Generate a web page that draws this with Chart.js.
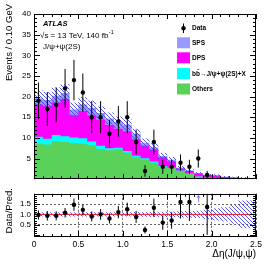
<!DOCTYPE html>
<html><head><meta charset="utf-8">
<script src="https://cdn.jsdelivr.net/npm/chart.js@4.4.0/dist/chart.umd.min.js"></script>
<style>
html,body{margin:0;padding:0;background:#fff;width:274px;height:264px;overflow:hidden}
canvas{position:absolute;left:0}
#c1{top:0}
#c2{top:186px}
</style></head><body>
<canvas id="c1" width="274" height="187"></canvas>
<canvas id="c2" width="274" height="78"></canvas>
<script>
// ---- data ----
const binEdges = [0,0.1,0.2,0.3,0.4,0.5,0.6,0.7,0.8,0.9,1.0,1.1,1.2,1.3,1.4,1.5,1.6,1.7,1.8,1.9,2.0,2.1,2.2,2.3,2.4,2.5];
const dataCounts = [19,17,18,22,24,21,15,15,11,14,15,9,2,9,3,3,4,3,5,1,0,0,0,0,0];
const dataErr    = [4.4,4.1,4.2,4.7,4.9,4.6,3.9,3.9,3.3,3.7,3.9,3.0,1.4,3.0,1.7,1.7,2.0,1.7,2.2,1.0,0,0,0,0,0];
const others = [8.6,8.4,9.2,9.0,8.7,8.6,8.2,7.3,7.0,7.2,6.4,5.3,4.8,4.0,3.0,2.7,2.0,1.3,0.6,0.3,0.2,0.1,0.08,0.05,0.04];
const bbbar  = [1.7,1.4,1.5,1.4,1.4,1.3,0.9,0.8,0.5,0.4,0.4,0.4,0.3,0.3,0.2,0.1,0.1,0.1,0.05,0.05,0.02,0.02,0.01,0.01,0.01];
const dps    = [7.8,7.9,7.9,9.0,5.4,6.6,6.4,6.3,5.6,4.6,4.8,4.0,3.0,2.9,2.1,1.5,0.5,0.6,0.75,0.65,0.65,0.4,0.3,0.25,0.15];
const sps    = [1.5,1.5,1.6,1.5,1.4,1.6,1.8,1.6,1.6,1.6,1.6,1.3,0.7,0.5,0.3,0.4,0.2,0.1,0.1,0.05,0.05,0.05,0.02,0.02,0.02];
const relUnc = [0.1,0.1,0.1,0.1,0.1,0.1,0.1,0.1,0.1,0.1,0.1,0.11,0.12,0.13,0.13,0.14,0.15,0.16,0.18,0.22,0.3,0.35,0.45,0.67,0.67];
const ratioVals = [0.97,0.93,0.93,1.08,1.47,1.22,0.90,1.0,0.80,1.11,1.25,0.875,0.24,1.32,0.6,0.7,1.6,1.6,3.3,1.36,null,null,null,null,null];
const ratioErr  = [0.22,0.23,0.22,0.23,0.30,0.27,0.24,0.26,0.24,0.30,0.32,0.29,0.17,0.44,0.35,0.40,0.80,0.92,1.4,1.36,0,0,0,0,0];
const yTicksMain = [5,10,15,20,25,30,35,40];
const yTicksRatio = [0.5,1,1.5];
const xTicks = [0,0.5,1,1.5,2,2.5];

const FONT = '"Liberation Sans", Arial, Helvetica, sans-serif';
Chart.defaults.font.family = FONT;

// ---- derived tables ----
const nb = binEdges.length - 1;
const centers = binEdges.slice(0, -1).map((e, i) => (e + binEdges[i + 1]) / 2);
const cum = (...arrs) => arrs[0].map((_, i) => arrs.reduce((s, a) => s + a[i], 0));
const cOthers = others.slice();
const cBb = cum(others, bbbar);
const cDps = cum(others, bbbar, dps);
const cSps = cum(others, bbbar, dps, sps);
const steps = vals => { const p = vals.map((v, i) => ({x: binEdges[i], y: v})); p.push({x: binEdges[nb], y: vals[nb - 1]}); return p; };

function makeHatch(ctx, color) {
  const s = 4, c = document.createElement('canvas'); c.width = s; c.height = s;
  const g = c.getContext('2d'); g.strokeStyle = color; g.lineWidth = 1;
  g.beginPath();
  for (let k = -s; k <= s; k += s) { g.moveTo(k, 0); g.lineTo(k + s, s); }
  g.stroke();
  return ctx.createPattern(c, 'repeat');
}

const fillLine = (vals, color, fill) => ({data: steps(vals), stepped: true, pointRadius: 0, borderWidth: 0, borderColor: 'transparent', backgroundColor: color, fill: fill});

function framePlugin(yMinor, yMajorEvery, xMajorLen, yMajorLen) {
  return {id: 'frame', afterDraw(chart) {
    const {ctx, chartArea: a, scales: {x, y}} = chart;
    ctx.save(); ctx.strokeStyle = '#000'; ctx.lineWidth = 1;
    ctx.strokeRect(Math.round(a.left) + 0.5, Math.round(a.top) + 0.5, Math.round(a.right - a.left) - 1, Math.round(a.bottom - a.top) - 1);
    ctx.beginPath();
    for (let k = 0; k <= 25; k++) {
      const px = Math.round(x.getPixelForValue(k / 10)) + 0.5;
      const L = k % 5 === 0 ? xMajorLen : 3;
      ctx.moveTo(px, a.bottom); ctx.lineTo(px, a.bottom - L);
      ctx.moveTo(px, a.top); ctx.lineTo(px, a.top + L);
    }
    for (const [v, major] of yMinor) {
      const py = Math.round(y.getPixelForValue(v)) + 0.5;
      if (py < a.top || py > a.bottom) continue;
      const L = major ? yMajorLen : 3;
      ctx.moveTo(a.left, py); ctx.lineTo(a.left + L, py);
      ctx.moveTo(a.right, py); ctx.lineTo(a.right - L, py);
    }
    ctx.stroke(); ctx.restore();
  }};
}

function errPlugin(xs, ys, es) {
  return {id: 'errbars', afterDatasetsDraw(chart) {
    const {ctx, chartArea: a, scales: {x, y}} = chart;
    ctx.save(); ctx.beginPath(); ctx.rect(a.left, a.top, a.right - a.left, a.bottom - a.top); ctx.clip();
    ctx.strokeStyle = '#000'; ctx.lineWidth = 1;
    for (let i = 0; i < xs.length; i++) {
      if (ys[i] == null || ys[i] > y.max) continue;
      const px = x.getPixelForValue(xs[i]);
      ctx.beginPath();
      ctx.moveTo(px, y.getPixelForValue(ys[i] - es[i]));
      ctx.lineTo(px, y.getPixelForValue(ys[i] + es[i]));
      ctx.stroke();
    }
    ctx.restore();
  }};
}

// ---- main panel ----
const ctx1 = document.getElementById('c1').getContext('2d');
const hatch1 = makeHatch(ctx1, 'rgba(70,70,235,0.9)');
const mainPts = centers.map((x, i) => dataCounts[i] > 0 ? {x, y: dataCounts[i]} : null).filter(Boolean);
const mainMinor = []; for (let k = 0; k <= 40; k++) mainMinor.push([k, k % 5 === 0]);

const textPlugin = {id: 'texts', afterDraw(chart) {
  const ctx = chart.ctx;
  ctx.save();
  ctx.fillStyle = '#000';
  // y title
  ctx.save(); ctx.translate(9, 4); ctx.rotate(-Math.PI / 2);
  ctx.font = '9.5px ' + FONT; ctx.textAlign = 'right'; ctx.textBaseline = 'middle';
  ctx.fillText('Events / 0.10 GeV', 0, 0); ctx.restore();
  // ATLAS labels
  ctx.textAlign = 'left'; ctx.textBaseline = 'alphabetic';
  ctx.font = 'italic bold 7.5px ' + FONT; ctx.fillText('ATLAS', 43, 26);
  ctx.font = '8px ' + FONT;
  const t1 = '\u221As = 13 TeV, 140 fb';
  ctx.fillText(t1, 40, 37.5);
  const w1 = ctx.measureText(t1).width;
  ctx.font = '5.5px ' + FONT; ctx.fillText('-1', 40 + w1 + 0.5, 34);
  ctx.font = '8px ' + FONT; ctx.fillText('J/\u03C8+\u03C8(2S)', 43, 48.5);
  // legend
  const bx = 177, bw = 13, bh = 11, tx = 192;
  ctx.strokeStyle = '#000'; ctx.lineWidth = 1;
  ctx.beginPath(); ctx.moveTo(183.5, 23.5); ctx.lineTo(183.5, 33); ctx.stroke();
  ctx.beginPath(); ctx.arc(183.5, 28.3, 2.2, 0, Math.PI * 2); ctx.fill();
  const items = [['SPS', '#9999ff', 42.8], ['DPS', '#ff00ff', 57.8], ['bb\u0304\u2192J/\u03C8+\u03C8(2S)+X', '#00ffff', 73.6], ['Others', '#5ad25a', 89]];
  ctx.font = 'bold 6.5px ' + FONT; ctx.textBaseline = 'middle';
  ctx.fillStyle = '#000'; ctx.fillText('Data', tx, 28.5);
  for (const [lab, col, cy] of items) {
    ctx.fillStyle = col; ctx.fillRect(bx, cy - bh / 2, bw, bh);
    ctx.fillStyle = '#000'; ctx.fillText(lab, tx, cy + 0.5);
  }
  ctx.restore();
}};

new Chart(ctx1, {
  type: 'line',
  data: {datasets: [
    {data: mainPts, showLine: false, pointRadius: 2.2, pointBorderWidth: 0, pointBackgroundColor: '#000', borderColor: '#000'},
    Object.assign(fillLine(cSps.map((v, i) => v * (1 + relUnc[i])), hatch1, 2)),
    fillLine(cSps.map((v, i) => v * (1 - relUnc[i])), 'transparent', false),
    fillLine(cOthers, '#5ad25a', 'origin'),
    fillLine(cBb, '#00ffff', 'origin'),
    fillLine(cDps, '#ff00ff', 'origin'),
    fillLine(cSps, '#9999ff', 'origin'),
  ]},
  options: {
    responsive: false, animation: false, devicePixelRatio: 1,
    layout: {padding: {left: 0, right: 18, top: 14, bottom: 1}},
    plugins: {legend: {display: false}, tooltip: {enabled: false}},
    elements: {line: {tension: 0}},
    scales: {
      x: {type: 'linear', min: 0, max: 2.5, display: false},
      y: {type: 'linear', min: 0, max: 40,
          afterFit: s => { s.width = 34; },
          afterBuildTicks: s => { s.ticks = yTicksMain.map(v => ({value: v})); },
          grid: {display: false, drawTicks: false}, border: {display: false},
          ticks: {font: {size: 8}, color: '#000', padding: 3}}
    }
  },
  plugins: [errPlugin(centers, dataCounts.map(v => v > 0 ? v : null), dataErr), framePlugin(mainMinor, 5, 5, 6), textPlugin]
});

// ---- ratio panel ----
const ctx2 = document.getElementById('c2').getContext('2d');
const hatch2 = makeHatch(ctx2, 'rgba(70,70,235,0.9)');
const ratioPts = centers.map((x, i) => ratioVals[i] != null ? {x, y: ratioVals[i]} : null).filter(Boolean);
const ratioMinor = []; for (let k = -1; k <= 20; k++) ratioMinor.push([k / 10, k % 5 === 0]);

const ratioText = {id: 'rtexts', afterDraw(chart) {
  const {ctx, chartArea: a, scales: {x, y}} = chart;
  ctx.save(); ctx.fillStyle = '#000';
  ctx.save(); ctx.translate(9, 2); ctx.rotate(-Math.PI / 2);
  ctx.font = '9.5px ' + FONT; ctx.textAlign = 'right'; ctx.textBaseline = 'middle';
  ctx.fillText('Data/Pred.', 0, 0); ctx.restore();
  ctx.font = '10px ' + FONT; ctx.textAlign = 'right'; ctx.textBaseline = 'alphabetic';
  ctx.fillText('\u0394\u03B7(J/\u03C8,\u03C8)', a.right, 71);
  // off-scale arrows
  ctx.strokeStyle = '#7f7fff'; ctx.fillStyle = '#7f7fff'; ctx.lineWidth = 1;
  for (let i = 0; i < centers.length; i++) {
    if (ratioVals[i] != null && ratioVals[i] > y.max) {
      const px = Math.round(x.getPixelForValue(centers[i])) + 0.5;
      ctx.beginPath(); ctx.moveTo(px, a.top + 8); ctx.lineTo(px, a.top + 2); ctx.stroke();
      ctx.beginPath(); ctx.moveTo(px - 2, a.top + 4); ctx.lineTo(px, a.top + 1); ctx.lineTo(px + 2, a.top + 4); ctx.closePath(); ctx.fill();
    }
  }
  ctx.restore();
}};

new Chart(ctx2, {
  type: 'line',
  data: {datasets: [
    {data: ratioPts, showLine: false, pointRadius: 2.2, pointBorderWidth: 0, pointBackgroundColor: '#000', borderColor: '#000'},
    {data: [{x: 0, y: 1}, {x: 2.5, y: 1}], borderColor: '#ff2020', borderWidth: 1, pointRadius: 0, fill: false},
    fillLine(relUnc.map(u => 1 + u), hatch2, 3),
    fillLine(relUnc.map(u => 1 - u), 'transparent', false),
  ]},
  options: {
    responsive: false, animation: false, devicePixelRatio: 1,
    layout: {padding: {left: 0, right: 18, top: 0, bottom: 0}},
    plugins: {legend: {display: false}, tooltip: {enabled: false}},
    elements: {line: {tension: 0}},
    scales: {
      x: {type: 'linear', min: 0, max: 2.5,
          afterFit: s => { s.height = 27; },
          afterBuildTicks: s => { s.ticks = xTicks.map(v => ({value: v})); },
          grid: {display: true, drawTicks: false, color: '#666', lineWidth: 1},
          border: {display: false, dash: [2, 2]},
          ticks: {font: {size: 8.5}, color: '#000', padding: 3, maxRotation: 0, autoSkip: false}},
      y: {type: 'linear', min: -0.1, max: 2.0,
          afterFit: s => { s.width = 34; },
          afterBuildTicks: s => { s.ticks = yTicksRatio.map(v => ({value: v})); },
          grid: {display: true, drawTicks: false, color: '#666', lineWidth: 1},
          border: {display: false, dash: [2, 2]},
          ticks: {font: {size: 8}, color: '#000', padding: 3}}
    }
  },
  plugins: [errPlugin(centers, ratioVals, ratioErr), framePlugin(ratioMinor, 5, 6, 6), ratioText]
});
</script>
</body></html>
